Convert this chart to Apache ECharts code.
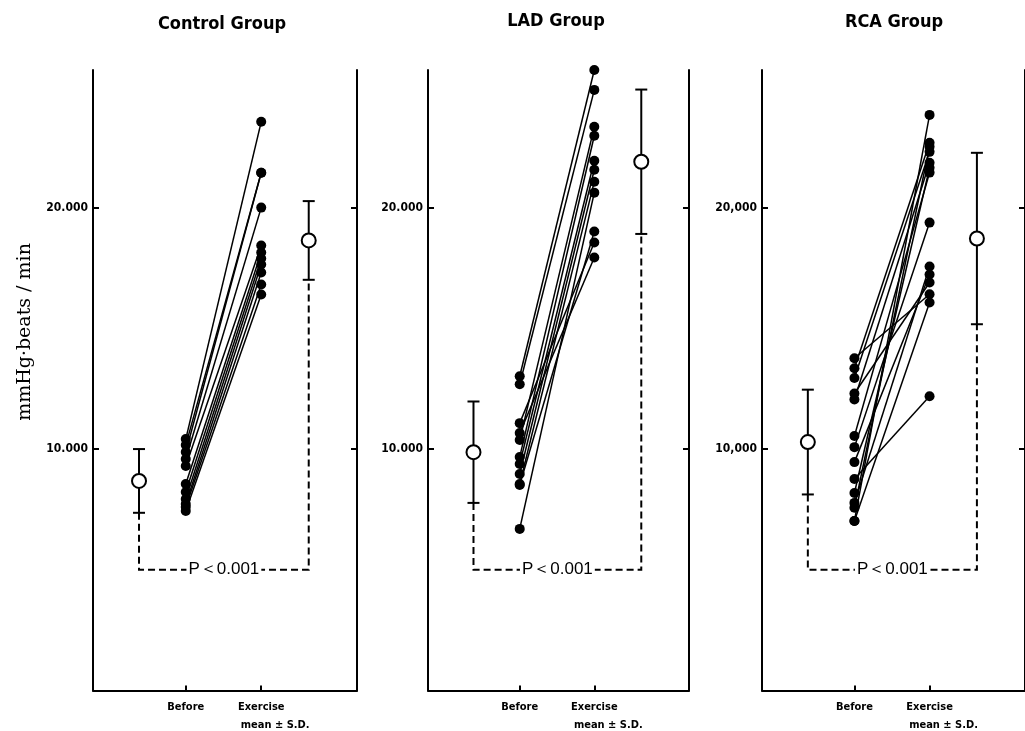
<!DOCTYPE html>
<html><head><meta charset="utf-8">
<script src="https://cdn.jsdelivr.net/npm/echarts@6/dist/echarts.min.js"></script>
<style>html,body{margin:0;padding:0;background:#fff}#c{width:1025px;height:731px}</style>
</head><body><div id="c"></div>
<script>
// ---------- data ----------
const panelTitles = ['Control Group', 'LAD Group', 'RCA Group'];
const xCategories = ['Before', 'Exercise'];
const yTickValues = [10000, 20000];
const yTickLabels = [['10.000', '20.000'], ['10.000', '20.000'], ['10,000', '20,000']];
const yAxisTitle = 'mmHg\u00B7beats / min';
const meanLabel = 'mean \u00B1 S.D.';
const pLabel = 'P\uFF1C0.001';
const pLevel = 5000;

const controlBefore   = [10413, 10165, 9876, 9587, 9298, 8554, 8223, 7934, 7727, 7603, 7438];
const controlExercise = [23554, 21446, 21446, 20000, 18430, 18140, 17893, 17645, 17314, 16818, 16405];
const ladBefore       = [13017, 12686, 11074, 10661, 10372, 9669, 9380, 8967, 8554, 8512, 6694];
const ladExercise     = [25702, 24876, 18554, 17934, 23347, 22975, 21942, 21570, 21074, 19008, 20620];
const rcaBefore       = [13760, 13350, 12940, 12300, 12050, 10540, 10080, 9460, 8760, 8180, 7770, 7570, 7020, 7020];
const rcaExercise     = [16410, 22690, 22310, 16900, 21860, 21450, 19380, 17230, 12190, 21650, 17560, 22520, 23840, 16070];

const meanBefore   = [8680, 9870, 10290];
const sdBefore     = [1320, 2100, 2170];
const meanExercise = [18640, 21900, 18720];
const sdExercise   = [1630, 2990, 3550];

const beforeSets = [controlBefore, ladBefore, rcaBefore];
const exerciseSets = [controlExercise, ladExercise, rcaExercise];

// ---------- layout ----------
const gridLefts = [93, 428, 762];
const gridWidths = [264, 261, 264];
const titleX = [222, 556, 894];
const titleY = [24, 21, 22];
const POS = { meanB: 0.61, before: 1.23, exercise: 2.23, meanE: 2.86, max: 3.5 };
const catPos = [POS.before, POS.exercise];
const Y_MAX = 25700;

const grids = [], xAxes = [], yAxes = [], series = [], graphics = [];
const axisLineStyle = { color: '#000', width: 2 };
const labelFont = 'DejaVu Sans Condensed, DejaVu Sans';

for (let p = 0; p < 3; p++) {
  grids.push({ left: gridLefts[p], width: gridWidths[p], top: 70, bottom: 39, containLabel: false });
  xAxes.push({
    type: 'value', gridIndex: p, min: 0, max: POS.max,
    axisLine: { show: true, onZero: false, lineStyle: axisLineStyle },
    axisTick: { show: true, inside: true, length: 5, customValues: catPos, lineStyle: axisLineStyle },
    axisLabel: {
      show: true, customValues: catPos, margin: 8,
      formatter: v => {
        const i = catPos.findIndex(c => Math.abs(c - v) < 1e-6);
        if (i === 1) return '{a|' + xCategories[1] + '}\n{b|' + meanLabel + '}';
        return '{a|' + (i >= 0 ? xCategories[i] : '') + '}';
      },
      rich: {
        a: { fontFamily: labelFont, fontWeight: 'bold', fontSize: 11, color: '#000', align: 'center', lineHeight: 18 },
        b: { fontFamily: labelFont, fontWeight: 'bold', fontSize: 11, color: '#000', align: 'center', padding: [0, 0, 0, 28], lineHeight: 18 }
      }
    },
    splitLine: { show: false }
  });
  const yl = yTickLabels[p];
  const yBase = {
    type: 'value', gridIndex: p, min: 0, max: Y_MAX,
    axisLine: { show: true, lineStyle: axisLineStyle },
    axisTick: { show: true, inside: true, length: 6, customValues: yTickValues, lineStyle: axisLineStyle },
    splitLine: { show: false }
  };
  yAxes.push(Object.assign({}, yBase, {
    position: 'left',
    axisLabel: {
      show: true, customValues: yTickValues, margin: 5, color: '#000',
      fontFamily: labelFont, fontWeight: 'bold', fontSize: 12,
      formatter: v => v === yTickValues[0] ? yl[0] : (v === yTickValues[1] ? yl[1] : '')
    }
  }));
  yAxes.push(Object.assign({}, yBase, { position: 'right', axisLabel: { show: false } }));

  const b = beforeSets[p], e = exerciseSets[p];
  for (let i = 0; i < b.length; i++) {
    series.push({
      type: 'line', xAxisIndex: p, yAxisIndex: 2 * p, silent: true, animation: false,
      data: [[POS.before, b[i]], [POS.exercise, e[i]]],
      symbol: 'circle', symbolSize: 10, showSymbol: true,
      itemStyle: { color: '#000' }, lineStyle: { color: '#000', width: 1.5 }, z: 3
    });
  }
  // mean ± SD
  series.push({
    type: 'custom', xAxisIndex: p, yAxisIndex: 2 * p, silent: true, animation: false, z: 4,
    data: [[POS.meanB, meanBefore[p], sdBefore[p]], [POS.meanE, meanExercise[p], sdExercise[p]]],
    renderItem: (params, api) => {
      const x = api.value(0), m = api.value(1), s = api.value(2);
      const t = api.coord([x, m + s]), c = api.coord([x, m]), bt = api.coord([x, m - s]);
      const r = 7, cap = 6, st = { stroke: '#000', lineWidth: 2 };
      return { type: 'group', children: [
        { type: 'line', shape: { x1: t[0], y1: t[1], x2: c[0], y2: c[1] - r }, style: st },
        { type: 'line', shape: { x1: c[0], y1: c[1] + r, x2: bt[0], y2: bt[1] }, style: st },
        { type: 'line', shape: { x1: t[0] - cap, y1: t[1], x2: t[0] + cap, y2: t[1] }, style: st },
        { type: 'line', shape: { x1: bt[0] - cap, y1: bt[1], x2: bt[0] + cap, y2: bt[1] }, style: st },
        { type: 'circle', shape: { cx: c[0], cy: c[1], r: r }, style: { fill: '#fff', stroke: '#000', lineWidth: 2 } }
      ] };
    }
  });
  // significance bracket
  series.push({
    type: 'custom', xAxisIndex: p, yAxisIndex: 2 * p, silent: true, animation: false, z: 2,
    data: [[POS.meanB, meanBefore[p] - sdBefore[p], POS.meanE, meanExercise[p] - sdExercise[p], pLevel]],
    renderItem: (params, api) => {
      const a = api.coord([api.value(0), api.value(1)]);
      const a2 = api.coord([api.value(0), api.value(4)]);
      const b2 = api.coord([api.value(2), api.value(4)]);
      const bb = api.coord([api.value(2), api.value(3)]);
      const mid = (a2[0] + b2[0]) / 2;
      return { type: 'group', children: [
        { type: 'polyline', shape: { points: [a, a2, b2, bb] }, style: { stroke: '#000', lineWidth: 2, lineDash: [7, 4], fill: null } },
        { type: 'text', x: mid, y: a2[1], style: {
          text: pLabel, align: 'center', verticalAlign: 'middle',
          font: '17px "Liberation Sans", Arial', fill: '#000', backgroundColor: '#fff', padding: [0, 2]
        } }
      ] };
    }
  });

  graphics.push({
    type: 'text', x: titleX[p], y: titleY[p],
    style: { text: panelTitles[p], align: 'center', verticalAlign: 'middle',
      font: 'bold 18px "DejaVu Sans Condensed", "Liberation Sans Narrow", sans-serif', fill: '#000' }
  });
}
graphics.push({
  type: 'text', x: 25, y: 332, rotation: Math.PI / 2,
  style: { text: yAxisTitle, align: 'center', verticalAlign: 'middle',
    font: '19px "DejaVu Serif", "Liberation Serif", serif', fill: '#000' }
});

const chart = echarts.init(document.getElementById('c'), null, { renderer: 'canvas' });
chart.setOption({
  backgroundColor: '#fff', animation: false,
  grid: grids, xAxis: xAxes, yAxis: yAxes, series: series, graphic: graphics
});
</script>
</body></html>
